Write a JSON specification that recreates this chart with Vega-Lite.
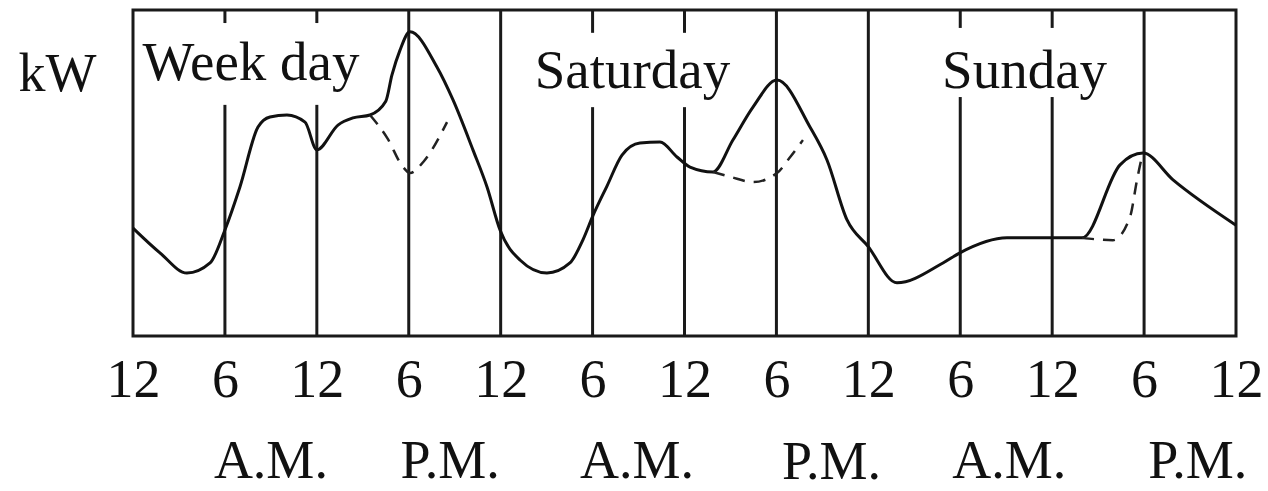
{
  "$schema": "https://vega.github.io/schema/vega-lite/v6.json",
  "width": 1103,
  "height": 326,
  "autosize": "none",
  "padding": {"left": 133, "top": 10, "right": 32, "bottom": 155},
  "background": "white",
  "config": {
    "view": {"stroke": "#1a1a1a", "strokeWidth": 3},
    "font": "Liberation Serif",
    "axis": {"grid": false, "ticks": false, "domain": false}
  },
  "datasets": {
    "load": [
      {"hour": 0, "kw": 33.1}, {"hour": 1.76, "kw": 25.5}, {"hour": 3.52, "kw": 19.3},
      {"hour": 5.03, "kw": 22.4}, {"hour": 6.0, "kw": 32.5}, {"hour": 6.98, "kw": 45.7},
      {"hour": 8.16, "kw": 64.1}, {"hour": 8.94, "kw": 67.2}, {"hour": 10.05, "kw": 67.8},
      {"hour": 11.23, "kw": 65.6}, {"hour": 12.0, "kw": 57.1}, {"hour": 13.38, "kw": 64.7},
      {"hour": 14.36, "kw": 66.9}, {"hour": 15.47, "kw": 67.8}, {"hour": 16.5, "kw": 72.0},
      {"hour": 16.9, "kw": 80.0}, {"hour": 17.43, "kw": 87.7}, {"hour": 18.08, "kw": 93.3},
      {"hour": 19.84, "kw": 82.5}, {"hour": 20.89, "kw": 72.4}, {"hour": 22.19, "kw": 57.1},
      {"hour": 23.11, "kw": 45.7}, {"hour": 23.96, "kw": 32.5}, {"hour": 25.26, "kw": 23.3},
      {"hour": 27.02, "kw": 19.3}, {"hour": 28.52, "kw": 22.4}, {"hour": 29.37, "kw": 29.5},
      {"hour": 30.03, "kw": 37.0}, {"hour": 30.94, "kw": 46.0}, {"hour": 31.92, "kw": 55.5},
      {"hour": 33.09, "kw": 59.2}, {"hour": 34.4, "kw": 59.5}, {"hour": 35.51, "kw": 54.9},
      {"hour": 36.36, "kw": 51.8}, {"hour": 37.86, "kw": 50.3}, {"hour": 39.16, "kw": 60.1},
      {"hour": 40.47, "kw": 70.2}, {"hour": 42.04, "kw": 78.5}, {"hour": 44.19, "kw": 64.1},
      {"hour": 45.3, "kw": 54.0}, {"hour": 46.61, "kw": 35.6}, {"hour": 47.98, "kw": 27.5},
      {"hour": 49.87, "kw": 16.3}, {"hour": 52.87, "kw": 22.4},
      {"hour": 53.98, "kw": 25.5}, {"hour": 57.05, "kw": 30.1}, {"hour": 60.05, "kw": 30.1},
      {"hour": 61.95, "kw": 30.1}, {"hour": 64.43, "kw": 52.5}, {"hour": 65.93, "kw": 56.1},
      {"hour": 67.89, "kw": 47.9}, {"hour": 72, "kw": 34.0}
    ],
    "dashed": [
      {"seg": "wd", "hour": 15.47, "kw": 67.8}, {"seg": "wd", "hour": 16.6, "kw": 60.7},
      {"seg": "wd", "hour": 17.6, "kw": 52.0}, {"seg": "wd", "hour": 18.08, "kw": 50.0},
      {"seg": "wd", "hour": 19.0, "kw": 53.7}, {"seg": "wd", "hour": 20.5, "kw": 65.6},
      {"seg": "sa", "hour": 37.86, "kw": 50.3}, {"seg": "sa", "hour": 39.0, "kw": 48.8},
      {"seg": "sa", "hour": 40.47, "kw": 47.2}, {"seg": "sa", "hour": 42.04, "kw": 50.0},
      {"seg": "sa", "hour": 42.9, "kw": 54.9}, {"seg": "sa", "hour": 43.73, "kw": 60.1},
      {"seg": "su", "hour": 61.95, "kw": 30.1}, {"seg": "su", "hour": 63.97, "kw": 29.4},
      {"seg": "su", "hour": 65.08, "kw": 36.5}, {"seg": "su", "hour": 65.54, "kw": 47.9},
      {"seg": "su", "hour": 65.86, "kw": 54.9}, {"seg": "su", "hour": 65.93, "kw": 56.1}
    ],
    "rules": [
      {"hour": 6, "bot": 0, "top": 70.9}, {"hour": 6, "bot": 96, "top": 100},
      {"hour": 12, "bot": 0, "top": 70.9}, {"hour": 12, "bot": 96, "top": 100},
      {"hour": 18, "bot": 0, "top": 100}, {"hour": 24, "bot": 0, "top": 100},
      {"hour": 30, "bot": 0, "top": 70.2}, {"hour": 30, "bot": 93, "top": 100},
      {"hour": 36, "bot": 0, "top": 70.2}, {"hour": 36, "bot": 93, "top": 100},
      {"hour": 42, "bot": 0, "top": 100}, {"hour": 48, "bot": 0, "top": 100},
      {"hour": 54, "bot": 0, "top": 73.3}, {"hour": 54, "bot": 94.5, "top": 100},
      {"hour": 60, "bot": 0, "top": 73.3}, {"hour": 60, "bot": 94.5, "top": 100},
      {"hour": 66, "bot": 0, "top": 100}
    ],
    "days": [
      {"hour": 7.7, "kw": 78.5, "text": "Week day"},
      {"hour": 32.6, "kw": 76.1, "text": "Saturday"},
      {"hour": 58.2, "kw": 76.1, "text": "Sunday"}
    ],
    "ampm": [
      {"hour": 9, "kw": -38.7, "text": "A.M."},
      {"hour": 20.7, "kw": -38.7, "text": "P.M."},
      {"hour": 32.9, "kw": -38.7, "text": "A.M."},
      {"hour": 45.6, "kw": -38.9, "text": "P.M."},
      {"hour": 57.2, "kw": -38.7, "text": "A.M."},
      {"hour": 69.5, "kw": -38.7, "text": "P.M."}
    ]
  },
  "layer": [
    {
      "data": {"name": "rules"},
      "mark": {"type": "rule", "strokeWidth": 3, "color": "#1a1a1a"},
      "encoding": {
        "x": {
          "field": "hour", "type": "quantitative",
          "scale": {"domain": [0, 72], "nice": false, "zero": false},
          "axis": {
            "title": null,
            "values": [0, 6, 12, 18, 24, 30, 36, 42, 48, 54, 60, 66, 72],
            "labelExpr": "datum.value % 12 === 0 ? '12' : '6'",
            "labelFont": "Liberation Serif", "labelFontSize": 54,
            "labelColor": "#111111", "labelPadding": 17,
            "labelOverlap": false, "labelBound": false, "labelFlush": false
          }
        },
        "y": {
          "field": "bot", "type": "quantitative",
          "scale": {"domain": [0, 100], "nice": false, "zero": false},
          "axis": {
            "labels": false,
            "title": "kW", "titleAngle": 0, "titleX": -76, "titleY": 80,
            "titleAlign": "center", "titleBaseline": "alphabetic",
            "titleFont": "Liberation Serif", "titleFontSize": 54,
            "titleFontWeight": "normal", "titleColor": "#111111"
          }
        },
        "y2": {"field": "top"}
      }
    },
    {
      "data": {"name": "load"},
      "mark": {"type": "line", "interpolate": "monotone", "strokeWidth": 3, "color": "#111111"},
      "encoding": {
        "x": {"field": "hour", "type": "quantitative"},
        "y": {"field": "kw", "type": "quantitative"}
      }
    },
    {
      "data": {"name": "dashed"},
      "mark": {"type": "line", "interpolate": "monotone", "strokeWidth": 2.5, "color": "#222222", "strokeDash": [12, 9]},
      "encoding": {
        "x": {"field": "hour", "type": "quantitative"},
        "y": {"field": "kw", "type": "quantitative"},
        "detail": {"field": "seg"}
      }
    },
    {
      "data": {"name": "days"},
      "mark": {"type": "text", "font": "Liberation Serif", "fontSize": 55, "align": "center", "baseline": "alphabetic", "color": "#111111"},
      "encoding": {
        "x": {"field": "hour", "type": "quantitative"},
        "y": {"field": "kw", "type": "quantitative"},
        "text": {"field": "text"}
      }
    },
    {
      "data": {"name": "ampm"},
      "mark": {"type": "text", "font": "Liberation Serif", "fontSize": 54, "align": "center", "baseline": "middle", "color": "#111111"},
      "encoding": {
        "x": {"field": "hour", "type": "quantitative"},
        "y": {"field": "kw", "type": "quantitative"},
        "text": {"field": "text"}
      }
    }
  ]
}
